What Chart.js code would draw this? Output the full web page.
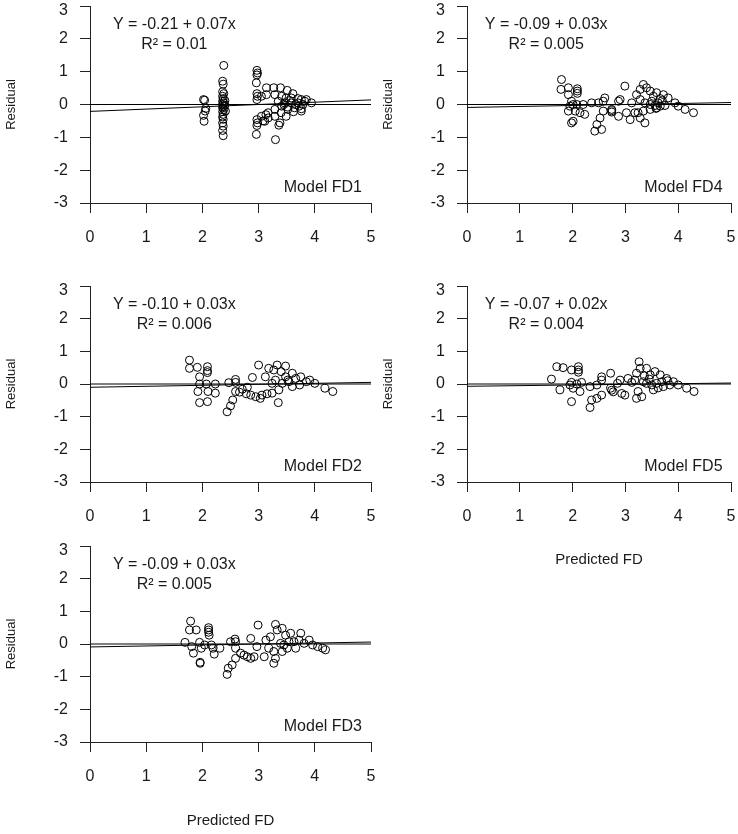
<!DOCTYPE html>
<html>
<head>
<meta charset="utf-8">
<script src="https://cdn.jsdelivr.net/npm/chart.js@4"></script>
<style>
  body { margin: 0; background: #fff; width: 738px; height: 834px; position: relative; overflow: hidden; }
  canvas { position: absolute; }
</style>
</head>
<body>
<canvas id="fd1"></canvas>
<canvas id="fd4"></canvas>
<canvas id="fd2"></canvas>
<canvas id="fd5"></canvas>
<canvas id="fd3"></canvas>
<script>
// axis ticks
const xTicks = [0, 1, 2, 3, 4, 5];
const yTicks = [-3, -2, -1, 0, 1, 2, 3];

// regression fits, in panel order FD1, FD4, FD2, FD5, FD3
const modelNames = ['Model FD1', 'Model FD4', 'Model FD2', 'Model FD5', 'Model FD3'];
const intercepts = [-0.21, -0.09, -0.10, -0.07, -0.09];
const slopes = [0.07, 0.03, 0.03, 0.02, 0.03];
const rSquared = ['0.01', '0.005', '0.006', '0.004', '0.005'];

// residuals vs predicted FD
const fd1X = [2.02, 2.04, 2.06, 2.05, 2.02, 2.03,
  2.38, 2.36, 2.37, 2.36, 2.38, 2.36, 2.37, 2.36, 2.38, 2.36, 2.37, 2.36, 2.38, 2.36, 2.37, 2.36, 2.37, 2.36, 2.37, 2.36, 2.37,
  2.40, 2.40, 2.41,
  2.97, 2.98, 2.97, 2.96, 2.97, 2.98, 2.97, 2.97, 2.98, 2.97, 2.96,
  3.14, 3.14, 3.05, 3.27, 3.39, 3.51, 3.61, 3.29, 3.41, 3.49, 3.58, 3.70, 3.76, 3.35, 3.46, 3.58, 3.70, 3.79, 3.94,
  3.41, 3.52, 3.64, 3.76, 3.29, 3.17, 3.05, 3.17, 3.29, 3.49, 3.38, 3.36, 3.11, 3.08, 3.30, 3.52, 3.82, 3.85,
  3.76, 3.72, 3.45, 3.55, 3.66, 3.40, 3.62, 3.13];
const fd1Y = [0.15, 0.13, -0.12, -0.20, -0.33, -0.51,
  1.19, 0.71, 0.62, 0.39, 0.33, 0.25, 0.18, 0.10, 0.05, 0.00, -0.05, -0.10, -0.15, -0.22, -0.30, -0.38, -0.45, -0.56, -0.66, -0.79, -0.95,
  0.12, -0.02, -0.20,
  1.04, 0.96, 0.90, 0.66, 0.33, 0.25, 0.15, -0.46, -0.56, -0.64, -0.91,
  0.51, 0.30, 0.25, 0.51, 0.51, 0.43, 0.33, 0.30, 0.25, 0.20, 0.20, 0.18, 0.15, 0.10, 0.05, 0.05, 0.05, 0.00, 0.05,
  -0.05, -0.08, -0.10, -0.13, -0.15, -0.25, -0.36, -0.41, -0.36, -0.36, -0.56, -0.63, -0.51, -0.50, -1.07, -0.15, 0.10, 0.15,
  -0.20, -0.05, 0.00, 0.12, 0.00, -0.25, -0.22, -0.31];

const fd4X = [1.79, 1.78, 1.92, 1.92, 2.09, 2.09, 2.09, 1.98, 2.01, 1.95, 2.08, 2.20, 1.92, 2.05, 2.14, 2.23, 2.01, 1.98,
  2.49, 2.58, 2.61, 2.58, 2.52, 2.46, 2.42, 2.55, 2.74, 2.74, 2.74, 2.87, 2.90, 2.99, 3.02, 3.09, 3.18, 3.12,
  3.21, 3.28, 3.34, 3.40, 3.47, 3.53, 3.59, 3.72, 3.81, 3.28, 3.37, 3.47, 3.56, 3.66, 3.75, 3.94, 4.00, 4.13, 4.29,
  3.24, 3.34, 3.28, 3.37, 3.47, 3.59, 2.87, 2.36, 3.50, 3.62, 3.70, 3.58, 3.66];
const fd4Y = [0.76, 0.46, 0.51, 0.30, 0.48, 0.41, 0.34, 0.10, 0.00, -0.05, 0.00, 0.00, -0.20, -0.20, -0.25, -0.30, -0.51, -0.56,
  0.05, 0.10, 0.20, -0.20, -0.41, -0.61, -0.81, -0.76, -0.15, -0.19, -0.23, -0.36, 0.15, 0.56, -0.25, -0.46, -0.25, 0.05,
  0.30, 0.46, 0.61, 0.51, 0.41, 0.25, 0.36, 0.30, 0.20, 0.15, 0.05, 0.00, -0.03, -0.05, -0.03, 0.05, -0.05, -0.15, -0.25,
  -0.25, -0.20, -0.41, -0.56, -0.15, -0.10, 0.10, 0.05, 0.10, 0.05, 0.12, -0.12, 0.18];

const fd2X = [1.77, 1.77, 1.91, 2.09, 2.09, 2.09, 1.95, 1.95, 2.07, 2.23, 1.92, 2.10, 2.23, 1.95, 2.09,
  2.47, 2.59, 2.59, 2.54, 2.50, 2.44, 2.71, 2.89, 2.86, 2.95, 3.06, 3.03, 3.00, 3.12, 3.18, 3.27, 3.33, 3.48,
  3.24, 3.36, 3.35, 3.24, 3.42, 3.54, 3.66, 3.75, 3.91, 4.00, 4.18, 4.32, 3.48, 3.60, 3.60, 3.73, 3.85,
  2.66, 2.78, 3.40, 3.52, 3.30, 3.15, 2.59, 2.80];
const fd2Y = [0.73, 0.48, 0.51, 0.53, 0.41, 0.35, 0.22, 0.00, 0.00, 0.00, -0.23, -0.23, -0.28, -0.57, -0.54,
  0.04, 0.14, -0.23, -0.49, -0.67, -0.85, -0.16, 0.20, -0.34, -0.39, -0.34, -0.44, 0.58, 0.22, 0.48, 0.43, 0.58, 0.55,
  0.02, -0.18, -0.57, -0.28, 0.02, 0.07, 0.17, 0.22, 0.12, 0.02, -0.13, -0.23, 0.22, 0.33, -0.08, -0.03, 0.07,
  -0.25, -0.30, 0.38, 0.12, 0.12, -0.30, 0.05, -0.10];

const fd5X = [1.70, 1.82, 1.60, 1.76, 1.98, 2.11, 2.11, 2.11, 1.98, 1.95, 2.08, 2.01, 2.17, 2.14, 1.98,
  2.33, 2.36, 2.33, 2.46, 2.55, 2.46, 2.55, 2.55, 2.72, 2.72, 2.74, 2.77, 2.90, 2.93, 2.99, 3.05,
  3.21, 3.26, 3.28, 3.18, 3.24, 3.21, 3.31, 3.40, 3.56, 3.47, 3.66, 3.34, 3.40, 3.50, 3.59, 3.69, 3.78,
  3.72, 3.84, 3.91, 4.00, 4.16, 4.30, 3.53, 3.62, 3.45, 3.36, 3.80, 2.85, 3.12];
const fd5Y = [0.53, 0.50, 0.15, -0.18, 0.43, 0.53, 0.43, 0.36, 0.05, -0.03, 0.00, -0.13, 0.05, -0.23, -0.54,
  -0.08, -0.49, -0.72, -0.44, -0.34, -0.03, 0.22, 0.12, 0.33, -0.13, -0.19, -0.24, 0.12, -0.29, -0.34, 0.17,
  0.33, 0.68, 0.48, 0.12, -0.23, -0.44, -0.39, 0.48, 0.38, 0.28, 0.28, 0.07, 0.02, -0.03, 0.02, 0.07, 0.17,
  -0.08, -0.03, 0.07, -0.03, -0.13, -0.23, -0.18, -0.12, 0.15, 0.25, 0.10, 0.02, 0.05];

const fd3X = [1.79, 1.77, 1.89, 2.11, 2.11, 2.11, 2.12, 1.69, 1.81, 1.84, 1.95, 1.98, 2.04, 1.96, 1.96,
  2.16, 2.19, 2.31, 2.21, 2.50, 2.58, 2.59, 2.59, 2.68, 2.74, 2.80, 2.86, 2.92, 2.59, 2.53, 2.46, 2.44,
  2.86, 2.99, 2.97, 3.10, 3.13, 3.21, 3.30, 3.33, 3.42, 3.27, 3.30, 3.27, 3.18,
  3.39, 3.45, 3.54, 3.63, 3.72, 3.81, 3.90, 3.96, 4.05, 4.14, 3.42, 3.51, 3.66, 3.48, 3.57, 3.75, 4.19];
const fd3Y = [0.70, 0.43, 0.43, 0.50, 0.43, 0.36, 0.27, 0.05, -0.08, -0.28, 0.05, -0.13, -0.03, -0.59, -0.56,
  -0.03, -0.13, -0.13, -0.31, 0.07, 0.15, 0.07, -0.13, -0.28, -0.34, -0.39, -0.44, -0.39, -0.44, -0.64, -0.74, -0.93,
  0.17, 0.58, -0.08, -0.39, 0.12, 0.22, 0.60, 0.43, 0.48, -0.23, -0.44, -0.59, -0.13,
  0.02, -0.03, 0.07, 0.07, 0.12, 0.02, 0.12, -0.03, -0.08, -0.13, -0.23, -0.13, -0.13, 0.27, 0.33, 0.33, -0.18];

Chart.defaults.font.family = '"Liberation Sans", Arial, sans-serif';
Chart.defaults.font.size = 16;
Chart.defaults.color = '#1a1a1a';

const yMax = yTicks[yTicks.length - 1];

// equation, R² and model name inside each panel
const panelText = {
  id: 'panelText',
  afterDatasetsDraw(chart, args, opts) {
    const { ctx, scales: { x, y } } = chart;
    ctx.save();
    ctx.fillStyle = '#1a1a1a';
    ctx.font = '16px "Liberation Sans", Arial, sans-serif';
    ctx.textAlign = 'center';
    ctx.textBaseline = 'middle';
    ctx.fillText(opts.eq, x.getPixelForValue(1.5), y.getPixelForValue(2.44));
    ctx.fillText(opts.r2, x.getPixelForValue(1.5), y.getPixelForValue(1.83));
    ctx.textAlign = 'right';
    ctx.fillText(opts.model, x.getPixelForValue(4.84), y.getPixelForValue(-2.53));
    ctx.restore();
  }
};

// chart area = (left + 90 .. left + w - 20) x (top + 22 .. top + h - axisH)
function makePanel(id, k, xs, ys, left, top, w, h, axisH, xTitle) {
  const cv = document.getElementById(id);
  cv.width = w;
  cv.height = h;
  cv.style.left = left + 'px';
  cv.style.top = top + 'px';

  const a = intercepts[k], b = slopes[k];
  const pts = xs.map((v, i) => ({ x: v, y: ys[i] }));
  const x0 = xTicks[0], x1 = xTicks[xTicks.length - 1];

  new Chart(cv, {
    type: 'scatter',
    data: {
      datasets: [
        {
          data: pts,
          pointStyle: 'circle',
          pointRadius: 4,
          pointBorderColor: '#000',
          pointBackgroundColor: 'rgba(0,0,0,0)',
          pointBorderWidth: 1
        },
        {
          type: 'line',
          data: [{ x: x0, y: 0 }, { x: x1, y: 0 }],
          borderColor: '#000',
          borderWidth: 1,
          pointRadius: 0
        },
        {
          type: 'line',
          data: [{ x: x0, y: a + b * x0 }, { x: x1, y: a + b * x1 }],
          borderColor: '#000',
          borderWidth: 1,
          pointRadius: 0
        }
      ]
    },
    options: {
      responsive: false,
      animation: false,
      layout: { padding: { top: 22, right: 20, left: 0, bottom: 0 } },
      plugins: {
        legend: { display: false },
        tooltip: { enabled: false },
        panelText: {
          eq: 'Y = ' + a.toFixed(2) + ' + ' + b.toFixed(2) + 'x',
          r2: 'R\u00B2 = ' + rSquared[k],
          model: modelNames[k]
        }
      },
      scales: {
        x: {
          type: 'linear',
          min: x0,
          max: x1,
          afterBuildTicks: s => { s.ticks = xTicks.map(v => ({ value: v })); },
          afterFit: s => { s.height = axisH; },
          grid: { drawOnChartArea: false, drawTicks: true, tickLength: 10, color: '#222', lineWidth: 1 },
          border: { display: true, color: '#222', width: 1 },
          ticks: { padding: 15, maxRotation: 0 },
          title: { display: !!xTitle, text: xTitle || '', font: { size: 15 }, padding: { top: 4, bottom: 4 } }
        },
        y: {
          type: 'linear',
          min: yTicks[0],
          max: yMax,
          afterBuildTicks: s => { s.ticks = yTicks.map(v => ({ value: v })); },
          afterFit: s => { s.width = 90; },
          grid: { drawOnChartArea: false, drawTicks: true, tickLength: 10, color: '#222', lineWidth: 1 },
          border: { display: true, color: '#222', width: 1 },
          ticks: {
            padding: 12,
            // top label sits a little below its tick, as in the original
            callback: v => (v === yMax ? ['', String(v)] : String(v)),
            font: c => (c.tick && c.tick.value === yMax ? { size: 16, lineHeight: '10px' } : { size: 16 })
          },
          title: { display: true, text: 'Residual', font: { size: 13 }, padding: { top: 4, bottom: 4 } }
        }
      }
    },
    plugins: [panelText]
  });
}

// left column: axis 90..371, right column: axis 467..731
makePanel('fd1', 0, fd1X, fd1Y, 0, -16, 391, 266, 47, null);
makePanel('fd4', 1, fd4X, fd4Y, 377, -16, 374, 266, 47, null);
makePanel('fd2', 2, fd2X, fd2Y, 0, 264, 391, 265, 47, null);
makePanel('fd5', 3, fd5X, fd5Y, 377, 264, 374, 309, 91, 'Predicted FD');
makePanel('fd3', 4, fd3X, fd3Y, 0, 524, 391, 310, 92, 'Predicted FD');
</script>
</body>
</html>
